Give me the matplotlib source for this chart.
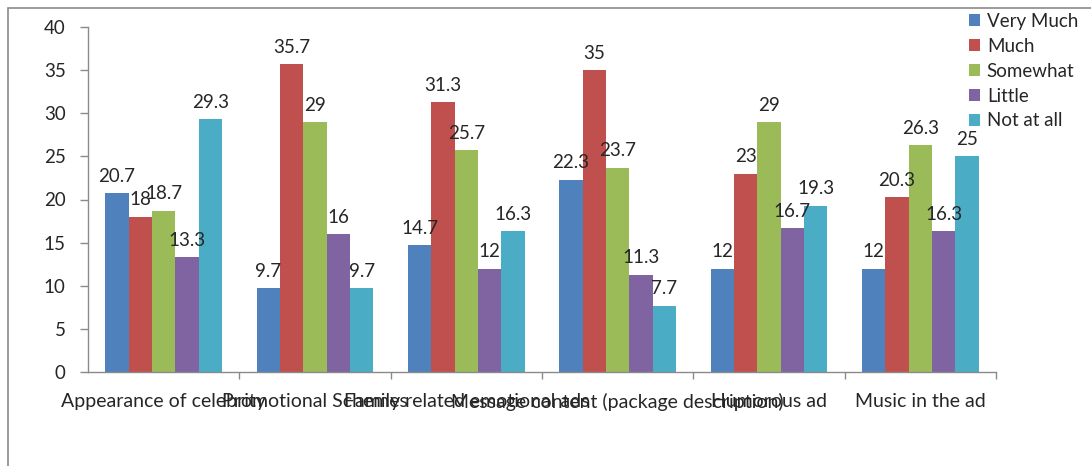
import matplotlib
matplotlib.use("Agg")
import matplotlib.pyplot as plt
import numpy as np
from matplotlib.patches import Rectangle

plt.rcParams['font.family'] = ['Lato', 'DejaVu Sans']

categories = ["Appearance of celebrity", "Promotional Schemes",
              "Family related emotional ads", "Message content (package description)",
              "Humorous ad", "Music in the ad"]
series_names = ["Very Much", "Much", "Somewhat", "Little", "Not at all"]
very_much = [20.7, 9.7, 14.7, 22.3, 12, 12]
much = [18, 35.7, 31.3, 35, 23, 20.3]
somewhat = [18.7, 29, 25.7, 23.7, 29, 26.3]
little = [13.3, 16, 12, 11.3, 16.7, 16.3]
not_at_all = [29.3, 9.7, 16.3, 7.7, 19.3, 25]
colors = ["#4F81BD", "#C0504D", "#9BBB59", "#8064A2", "#4BACC6"]

series = [very_much, much, somewhat, little, not_at_all]

W, H = 1091, 466
fig = plt.figure(figsize=(W / 100, H / 100), dpi=100)
ax = fig.add_axes([88 / W, 1 - 372 / H, (996 - 88) / W, (372 - 27) / H])

# outer chart frame
fig.patches.append(Rectangle((8 / W, -0.2), 1.2, 1 - 8 / H + 0.2,
                             transform=fig.transFigure, fill=False,
                             edgecolor="#8a8a8a", linewidth=1.2))

n = len(series)
bar_w = 1 / 6.5
x = np.arange(len(categories))
text_color = "#262626"
fs = 13.5
for i, (vals, name, c) in enumerate(zip(series, series_names, colors)):
    pos = x + (i - (n - 1) / 2) * bar_w
    bars = ax.bar(pos, vals, width=bar_w, color=c, label=name, linewidth=0)
    for b, v in zip(bars, vals):
        ax.annotate(f"{v:g}", (b.get_x() + b.get_width() / 2, v),
                    xytext=(0, 6), textcoords="offset points",
                    ha="center", va="bottom", fontsize=fs, color=text_color)

ax.set_xlim(-0.5, len(categories) - 0.5)
ax.set_ylim(0, 40)
ax.set_yticks(range(0, 41, 5))
ax.set_xticks(x)
ax.set_xticklabels(categories, fontsize=14, color=text_color)
ax.set_xticks(np.arange(0.5, len(categories) - 0.5 + 1e-9, 1), minor=True)
ax.tick_params(axis="x", which="major", length=0, pad=15)
ax.tick_params(axis="x", which="minor", length=5, color="#8a8a8a", width=1)
ax.tick_params(axis="y", length=6, color="#8a8a8a", width=1, pad=10,
               labelsize=fs, labelcolor=text_color)
for s in ["top", "right"]:
    ax.spines[s].set_visible(False)
for s in ["left", "bottom"]:
    ax.spines[s].set_color("#8a8a8a")
    ax.spines[s].set_linewidth(1)

leg = fig.legend(loc="upper left", bbox_to_anchor=(969 / W, 1 - 13 / H),
                 frameon=False, fontsize=fs, handlelength=0.6, handleheight=0.6,
                 handletextpad=0.35, labelspacing=0.42, borderaxespad=0,
                 borderpad=0)
for t in leg.get_texts():
    t.set_color(text_color)

fig.savefig("out.png", dpi=100)
